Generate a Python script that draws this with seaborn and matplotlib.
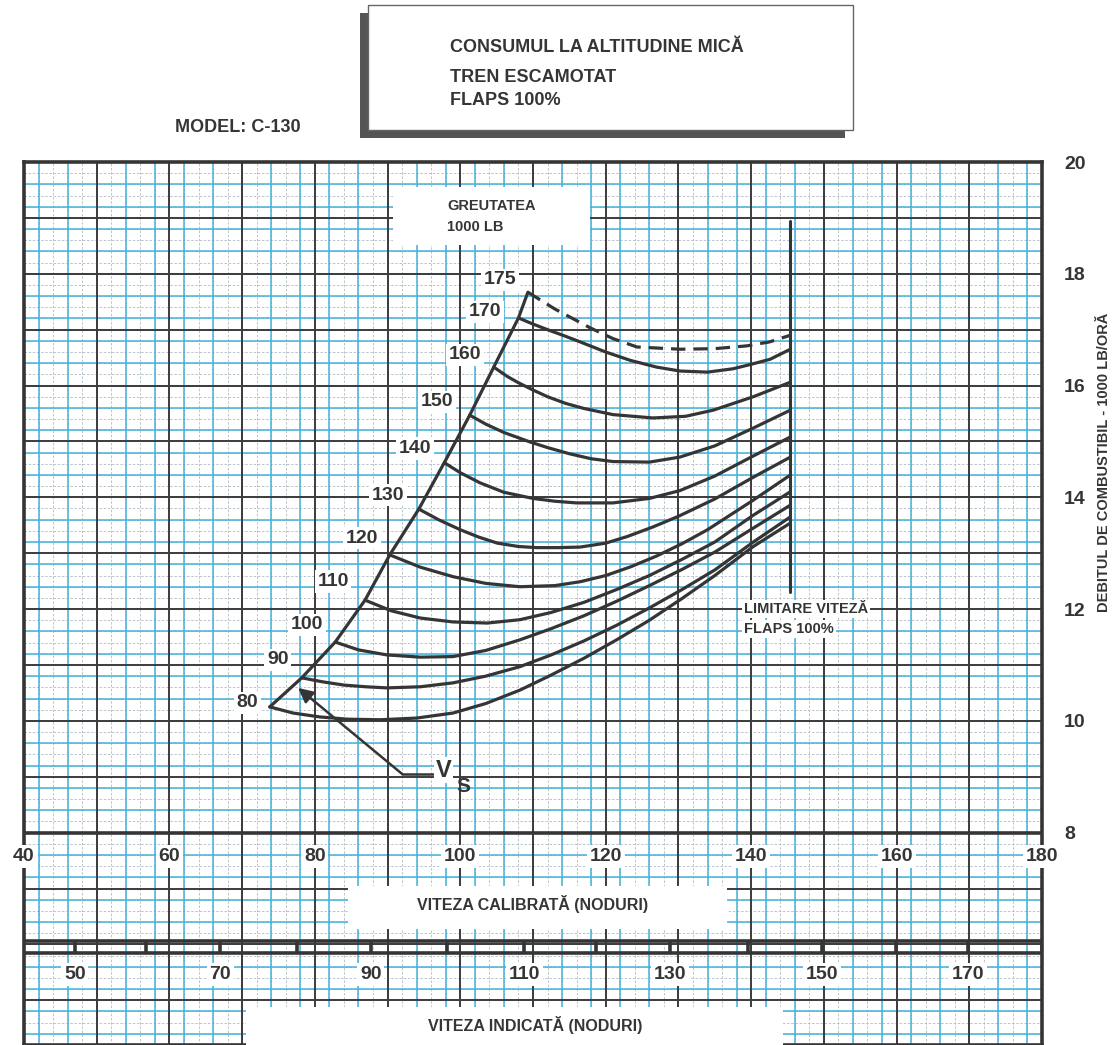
import numpy as np
import pandas as pd
import seaborn as sns
import matplotlib.pyplot as plt
from matplotlib.patches import Rectangle

# fuel flow curves, one per gross weight (1000 lb)
# calibrated airspeed (kn) and fuel flow (1000 lb/h)
w80_cas = [73.8, 77.0, 80.7, 84.5, 89.0, 94.0, 99.0, 103.5, 108.2, 112.5, 117.0,
           121.5, 126.0, 130.5, 135.0, 140.3, 145.4]
w80_ff = [10.25, 10.14, 10.07, 10.03, 10.02, 10.05, 10.14, 10.31, 10.55, 10.82, 11.12,
          11.45, 11.80, 12.19, 12.60, 13.12, 13.54]
w90_cas = [78.2, 81.0, 84.0, 87.0, 89.9, 94.5, 99.0, 103.5, 108.2, 112.5, 117.0,
           121.5, 126.0, 130.5, 135.0, 140.3, 145.4]
w90_ff = [10.77, 10.70, 10.64, 10.61, 10.59, 10.61, 10.68, 10.80, 10.97, 11.18, 11.43,
          11.71, 12.02, 12.35, 12.70, 13.20, 13.65]
w100_cas = [82.8, 86.0, 89.9, 94.5, 99.0, 103.5, 108.2, 112.5, 117.0, 121.5, 126.0,
            130.5, 135.0, 140.3, 145.4]
w100_ff = [11.41, 11.27, 11.18, 11.14, 11.15, 11.26, 11.45, 11.65, 11.88, 12.14, 12.42,
           12.71, 13.02, 13.45, 13.86]
w110_cas = [86.9, 90.5, 94.5, 99.0, 103.7, 108.2, 112.5, 117.0, 121.5, 126.0, 130.5,
            135.0, 140.3, 145.4]
w110_ff = [12.16, 11.97, 11.84, 11.77, 11.75, 11.81, 11.94, 12.12, 12.35, 12.60, 12.89,
           13.20, 13.68, 14.10]
w120_cas = [90.3, 94.5, 99.0, 103.5, 108.2, 113.0, 116.5, 120.0, 123.5, 127.0, 130.5,
            134.0, 140.3, 145.4]
w120_ff = [12.97, 12.75, 12.58, 12.46, 12.40, 12.42, 12.49, 12.60, 12.76, 12.95, 13.17,
           13.42, 13.95, 14.40]
w130_cas = [94.3, 97.0, 100.0, 102.5, 105.1, 108.0, 110.5, 113.5, 116.5, 120.0, 123.0,
            126.5, 130.0, 135.0, 140.3, 145.4]
w130_ff = [13.79, 13.60, 13.42, 13.29, 13.18, 13.12, 13.10, 13.10, 13.11, 13.18, 13.30,
           13.47, 13.66, 13.97, 14.36, 14.72]
w140_cas = [97.8, 100.0, 102.7, 106.0, 110.0, 113.0, 116.0, 121.0, 126.0, 130.2, 135.0,
            140.3, 145.4]
w140_ff = [14.62, 14.44, 14.26, 14.09, 13.98, 13.93, 13.90, 13.90, 13.98, 14.12, 14.38,
           14.74, 15.08]
w150_cas = [101.3, 103.5, 106.0, 109.6, 112.0, 115.0, 118.0, 121.0, 126.0, 130.2, 135.0,
            140.3, 145.4]
w150_ff = [15.47, 15.31, 15.16, 14.99, 14.89, 14.78, 14.69, 14.64, 14.63, 14.72, 14.92,
           15.24, 15.56]
w160_cas = [104.6, 106.5, 108.0, 110.0, 112.0, 114.5, 117.0, 121.0, 126.5, 131.0, 134.8,
            140.3, 145.4]
w160_ff = [16.33, 16.16, 16.05, 15.92, 15.80, 15.68, 15.59, 15.48, 15.42, 15.45, 15.56,
           15.80, 16.06]
w170_cas = [108.0, 110.0, 112.0, 114.3, 116.5, 120.0, 123.4, 127.0, 130.2, 134.0, 137.5,
            140.0, 142.6, 145.4]
w170_ff = [17.21, 17.10, 17.00, 16.89, 16.78, 16.60, 16.45, 16.33, 16.26, 16.24, 16.30,
           16.38, 16.47, 16.65]
w175_cas = [109.3, 113.0, 117.9, 121.0, 124.3, 130.2, 135.0, 139.4, 142.5, 145.4]
w175_ff = [17.67, 17.37, 17.03, 16.84, 16.69, 16.65, 16.66, 16.71, 16.78, 16.90]

weights = [80, 90, 100, 110, 120, 130, 140, 150, 160, 170, 175]
curves_cas = [w80_cas, w90_cas, w100_cas, w110_cas, w120_cas, w130_cas,
              w140_cas, w150_cas, w160_cas, w170_cas, w175_cas]
curves_ff = [w80_ff, w90_ff, w100_ff, w110_ff, w120_ff, w130_ff,
             w140_ff, w150_ff, w160_ff, w170_ff, w175_ff]

# weight label positions
label_cas = [70.7, 74.9, 78.9, 82.5, 86.5, 90.1, 93.8, 96.8, 100.7, 103.4, 105.5]
label_ff = [10.32, 11.09, 11.72, 12.49, 13.27, 14.04, 14.87, 15.71, 16.55, 17.32, 17.89]

# flap speed limit
limit_cas = 145.4
limit_ff_top = 18.95
limit_ff_bottom = 12.3

# Vs pointer
vs_cas = [96.3, 92.0, 77.7]
vs_ff = [9.05, 9.05, 10.59]

# axis scales
cas_ticks = [40, 60, 80, 100, 120, 140, 160, 180]
ff_ticks = [8, 10, 12, 14, 16, 18, 20]
ias_values = [50, 60, 70, 80, 90, 100, 110, 120, 130, 140, 150, 160, 170, 180]
ias_at_cas = [47.0, 56.8, 67.0, 77.5, 87.7, 98.2, 108.8, 118.6, 128.8, 139.5,
              149.7, 159.9, 169.8, 180.0]

rows = []
for w, xs, ys in zip(weights, curves_cas, curves_ff):
    for x, y in zip(xs, ys):
        rows.append({"weight": w, "cas": x, "ff": y})
df = pd.DataFrame(rows)

sns.set_style("white")
plt.rcParams['font.family'] = ['Liberation Sans', 'DejaVu Sans']

ink = '#353535'
W, H = 1120, 1045
fig = plt.figure(figsize=(W / 100, H / 100), dpi=100)
ax = fig.add_axes([24 / W, 0, 1018 / W, 883 / H])
y_low = 4.2
ax.set_xlim(40, 180)
ax.set_ylim(y_low, 20)
ax.grid(False)

# graph paper
ax.vlines(np.arange(40, 181, 2), y_low, 20, colors='#aebcc4', linewidth=0.6,
          linestyles=(0, (3, 2)), zorder=0)
ax.hlines(np.arange(y_low, 20.01, 0.2), 40, 180, colors='#aebcc4', linewidth=0.6,
          linestyles=(0, (3, 2)), zorder=0)
ax.vlines(np.arange(42, 180, 4), y_low, 20, colors='#45b2da', linewidth=1.1, zorder=0.5)
ax.hlines(np.arange(4.4, 20, 0.4), 40, 180, colors='#45b2da', linewidth=1.1, zorder=0.5)
ax.vlines(np.arange(40, 181, 10), y_low, 20, colors='#3c3c3c', linewidth=1.4, zorder=1)
ax.hlines(np.arange(5, 21, 1), 40, 180, colors='#3c3c3c', linewidth=1.4, zorder=1)
ax.axhline(8, color=ink, linewidth=2.6, zorder=2)
for s in ax.spines.values():
    s.set_color(ink)
    s.set_linewidth(2.6)

# curves
for w in weights:
    d = df[df["weight"] == w]
    line_ax = sns.lineplot(data=d, x="cas", y="ff", sort=False, ax=ax, color=ink,
                           linewidth=2.3, zorder=4, legend=False)
    if w == 175:
        line_ax.lines[-1].set_dashes((4.5, 2.5))

# stall boundary through the curve start points
starts = df.groupby("weight").first().reset_index()
sns.lineplot(data=starts, x="cas", y="ff", sort=False, ax=ax, color=ink,
             linewidth=2.3, zorder=4, legend=False)

# speed limit line
ax.plot([limit_cas, limit_cas], [limit_ff_bottom, limit_ff_top], color=ink,
        linewidth=2.2, zorder=4)

lab = dict(fontweight='bold', color=ink, zorder=6)
box = dict(facecolor='white', edgecolor='none', pad=2)
for w, x, y in zip(weights, label_cas, label_ff):
    ax.text(x, y, str(w), fontsize=14, ha='center', va='center', bbox=box, **lab)

ax.add_patch(Rectangle((90.8, 18.52), 27.1, 1.03, facecolor='white',
                       edgecolor='none', zorder=3))
ax.text(98.2, 19.21, 'GREUTATEA', fontsize=10.5, ha='left', va='center', **lab)
ax.text(98.2, 18.84, '1000 LB', fontsize=10.5, ha='left', va='center', **lab)

ax.text(139.0, 12.0, 'LIMITARE VITEZĂ', fontsize=10.5, ha='left', va='center',
        bbox=dict(facecolor='white', edgecolor='none', pad=1.5), **lab)
ax.text(139.0, 11.65, 'FLAPS 100%', fontsize=10.5, ha='left', va='center',
        bbox=dict(facecolor='white', edgecolor='none', pad=1.5), **lab)

# Vs pointer
ax.plot(vs_cas[:2], vs_ff[:2], color=ink, linewidth=1.8, zorder=4)
ax.annotate('', xy=(vs_cas[2], vs_ff[2]), xytext=(vs_cas[1], vs_ff[1]),
            arrowprops=dict(arrowstyle='-|>', color=ink, lw=1.8,
                            mutation_scale=22, shrinkA=0, shrinkB=0), zorder=5)
ax.text(96.6, 9.12, 'V', fontsize=17, ha='left', va='center',
        bbox=dict(facecolor='white', edgecolor='none', pad=1), **lab)
ax.text(99.4, 8.82, 'S', fontsize=15, ha='left', va='center', **lab)

# calibrated airspeed scale
for c in cas_ticks:
    ax.text(c, 7.57, str(c), fontsize=14, ha='center', va='center', bbox=box, **lab)
ax.add_patch(Rectangle((84.6, 6.28), 52.1, 0.76, facecolor='white',
                       edgecolor='none', zorder=3))
ax.text(110.0, 6.72, 'VITEZA CALIBRATĂ (NODURI)', fontsize=11.5, ha='center',
        va='center', **lab)

# indicated airspeed scale
ax.hlines([6.06, 5.85], 40, 180, colors=ink, linewidth=2.6, zorder=4)
ax.vlines(ias_at_cas, 5.85, 6.06, colors=ink, linewidth=2.6, zorder=4)
for v, c in zip(ias_values, ias_at_cas):
    if v % 20 == 10:
        ax.text(c, 5.46, str(v), fontsize=14, ha='center', va='center', bbox=box, **lab)
ax.add_patch(Rectangle((70.5, y_low), 73.9, 0.68, facecolor='white',
                       edgecolor='none', zorder=3))
ax.text(110.3, 4.55, 'VITEZA INDICATĂ (NODURI)', fontsize=11.5, ha='center',
        va='center', **lab)

# right axis
ax.set_xticks([])
ax.yaxis.tick_right()
ax.set_yticks(ff_ticks)
ax.tick_params(axis='y', length=0, pad=16, labelsize=14, labelcolor=ink)
for t in ax.get_yticklabels():
    t.set_fontweight('bold')
ax.set_xlabel('')
ax.set_ylabel('')
fig.text(1104 / W, 1 - 462 / H, 'DEBITUL DE COMBUSTIBIL - 1000 LB/ORĂ', rotation=90,
         fontsize=10.5, fontweight='bold', color=ink, ha='center', va='center')

# title block
fig.add_artist(Rectangle((360 / W, 1 - 138 / H), 485 / W, 125 / H,
                         transform=fig.transFigure, facecolor='#555555', edgecolor='none'))
fig.add_artist(Rectangle((368 / W, 1 - 130 / H), 485 / W, 125 / H,
                         transform=fig.transFigure, facecolor='white',
                         edgecolor='#666666', linewidth=1))
fig.text(450 / W, 1 - 48 / H, 'CONSUMUL LA ALTITUDINE MICĂ', fontsize=13,
         fontweight='bold', color=ink, va='center')
fig.text(450 / W, 1 - 78 / H, 'TREN ESCAMOTAT', fontsize=13,
         fontweight='bold', color=ink, va='center')
fig.text(450 / W, 1 - 100 / H, 'FLAPS 100%', fontsize=13,
         fontweight='bold', color=ink, va='center')
fig.text(175 / W, 1 - 128 / H, 'MODEL: C-130', fontsize=13,
         fontweight='bold', color=ink, va='center')

fig.savefig('out.png', dpi=100)
